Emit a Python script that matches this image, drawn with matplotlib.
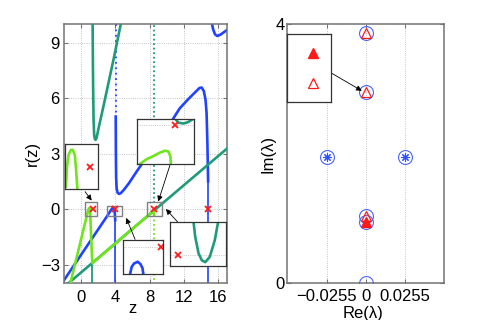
import matplotlib
matplotlib.use("Agg")
import matplotlib.pyplot as plt
from matplotlib.patches import Rectangle

plt.rcParams['font.family'] = ['Liberation Sans', 'DejaVu Sans']
plt.rcParams['font.size'] = 12

BLUE = '#2142ff'
LGREEN = '#70e41c'
TEAL = '#1f9b78'
RED = '#ff1a1a'
FRAME = '0.45'

# ---- left panel: branches of r(z)
blue_a_z = [-2.0, -1.0, 0.0, 1.0, 2.0, 3.0, 3.45, 3.63, 3.76, 3.86, 3.93, 3.97]
blue_a_r = [-3.85, -3.16, -2.47, -1.78, -1.09, -0.40, -0.08, 0.05, 0.06, 0.0, -0.25, -0.6]
blue_b_z = [4.03, 4.05, 4.08, 4.14, 4.25, 4.4, 4.6, 5.0, 5.56, 6.5, 7.5, 8.5, 9.5, 10.5,
            11.5, 12.5, 13.3, 13.8, 14.05, 14.3, 14.5, 14.62, 14.72, 14.8]
blue_b_r = [5.0, 3.0, 1.7, 1.1, 0.88, 0.82, 0.85, 1.05, 1.39, 2.05, 2.72, 3.38, 4.05, 4.72,
            5.45, 5.95, 6.32, 6.55, 6.57, 6.38, 5.9, 5.2, 3.5, 1.5]
blue_c_z = [15.25, 15.4, 15.6, 15.85, 16.2, 16.6, 17.0]
blue_c_r = [10.0, 9.7, 9.45, 9.36, 9.42, 9.55, 9.68]

teal_a_z = [-1.45, 17.0]
teal_a_r = [-4.0, 3.27]
teal_b_z = [1.34, 1.37, 1.40, 1.45, 1.52, 1.6, 1.68, 1.8, 2.0, 2.62, 3.2, 3.78, 4.2, 4.62]
teal_b_r = [10.0, 8.0, 6.5, 4.8, 4.0, 3.78, 3.74, 3.85, 4.3, 5.6, 6.85, 8.1, 9.05, 10.0]

green_z = [-1.25, -0.5, 0.2, 0.6, 0.8, 0.93, 1.02, 1.08, 1.15, 1.22, 1.3, 3.0, 5.0, 7.0, 8.45, 8.5]
green_r = [-4.0, -2.58, -1.24, -0.48, -0.1, 0.05, 0.0, -0.5, -1.3, -2.1, -2.93, -2.25, -1.46,
           -0.67, -0.1, -0.3]

# vertical pieces next to the poles: (z, r from, r to)
blue_poles = [(4.0, -0.6, -4.0), (14.83, 1.5, -4.0)]
blue_poles_dotted = [(4.02, 10.0, 5.0)]
teal_poles = [(1.3, -2.93, -4.0)]
teal_poles_dotted = [(8.53, 0.3, 10.0)]
green_poles_dotted = [(8.52, -0.3, -4.0)]

zeros_z = [1.35, 4.0, 8.53, 14.83]
zeros_r = [0.0, 0.0, 0.0, 0.0]

# insets (own unit coordinates)
ins_a_green_u = [0.02, 0.05, 0.1, 0.17, 0.23, 0.29, 0.33, 0.37]
ins_a_green_v = [0.06, 0.5, 0.76, 0.87, 0.87, 0.76, 0.43, 0.0]
ins_a_x = (0.75, 0.5)
ins_b_green_u = [0.0, 0.04, 0.16, 0.28, 0.4, 0.49, 0.55, 0.58, 0.59]
ins_b_green_v = [-0.05, 0.0, 0.11, 0.18, 0.26, 0.30, 0.28, 0.17, 0.0]
ins_b_teal_u = [0.67, 0.72, 0.81, 0.89, 0.98]
ins_b_teal_v = [1.0, 0.92, 0.9, 0.93, 1.0]
ins_b_x = (0.66, 0.87)
ins_c_blue_u = [0.17, 0.21, 0.27, 0.36, 0.43, 0.48, 0.5]
ins_c_blue_v = [0.0, 0.21, 0.31, 0.36, 0.29, 0.17, 0.0]
ins_c_x = (0.93, 0.8)
ins_d_teal_u = [0.42, 0.45, 0.51, 0.57, 0.63, 0.71, 0.8, 0.86]
ins_d_teal_v = [1.0, 0.66, 0.28, 0.12, 0.08, 0.2, 0.58, 1.0]
ins_d_x = (0.15, 0.24)

# ---- right panel: eigenvalues
circ_re = [0, 0, 0, 0, 0, -0.0255, 0.0255]
circ_im = [0.0, 0.94, 1.03, 2.95, 3.86, 1.95, 1.95]
star_re = [-0.0255, 0.0255]
star_im = [1.95, 1.95]
tri_open_re = [0, 0, 0]
tri_open_im = [1.03, 2.95, 3.86]
tri_fill_re = [0]
tri_fill_im = [0.95]


def style_axes(ax):
    for s in ax.spines.values():
        s.set_color(FRAME)
        s.set_linewidth(1.1)
    ax.tick_params(direction='in', length=3, color=FRAME, top=True, right=True,
                   labelsize=12)


def inset(rect):
    a = fig.add_axes(rect)
    a.set_xlim(0, 1)
    a.set_ylim(0, 1)
    a.set_xticks([])
    a.set_yticks([])
    for s in a.spines.values():
        s.set_color('0.2')
        s.set_linewidth(0.9)
    return a


fig = plt.figure(figsize=(4.91, 3.2), dpi=100)
ax = fig.add_axes([0.1303, 0.1156, 0.332, 0.809])
style_axes(ax)

lw = 1.9
ax.plot(blue_a_z, blue_a_r, color=BLUE, lw=lw, zorder=2)
ax.plot(blue_b_z, blue_b_r, color=BLUE, lw=lw, zorder=2)
ax.plot(blue_c_z, blue_c_r, color=BLUE, lw=lw, zorder=2)
for z, r0, r1 in blue_poles:
    ax.plot([z, z], [r0, r1], color=BLUE, lw=1.2, zorder=2)
for z, r0, r1 in blue_poles_dotted:
    ax.plot([z, z], [r0, r1], color=BLUE, lw=1.3, ls=(0, (1, 2)), zorder=2)

ax.plot(teal_a_z, teal_a_r, color=TEAL, lw=lw, zorder=3)
ax.plot(teal_b_z, teal_b_r, color=TEAL, lw=lw, zorder=3)
for z, r0, r1 in teal_poles:
    ax.plot([z, z], [r0, r1], color=TEAL, lw=1.3, zorder=3)
for z, r0, r1 in teal_poles_dotted:
    ax.plot([z, z], [r0, r1], color=TEAL, lw=1.3, ls=(0, (1, 1.5)), zorder=3)

ax.plot(green_z, green_r, color=LGREEN, lw=lw, zorder=4)
for z, r0, r1 in green_poles_dotted:
    ax.plot([z, z], [r0, r1], color=LGREEN, lw=1.3, ls=(0, (1, 1.5)), zorder=4)

ax.plot(zeros_z, zeros_r, 'x', color=RED, ms=5, mew=1.3, zorder=6)

for x0, y0, w, h in [(0.42, -0.4, 1.47, 0.77), (3.05, -0.4, 1.74, 0.59), (7.68, -0.4, 1.74, 0.77)]:
    ax.add_patch(Rectangle((x0, y0), w, h, fill=False, ec='0.5', lw=1.0, zorder=5))

arrow = dict(arrowstyle='-|>', color='k', lw=0.6, mutation_scale=8, shrinkA=0, shrinkB=0)
ax.annotate('', xy=(1.23, 0.46), xytext=(0.46, 0.94), arrowprops=arrow, zorder=7)
ax.annotate('', xy=(8.99, 0.41), xytext=(10.35, 2.37), arrowprops=arrow, zorder=7)
ax.annotate('', xy=(5.25, -0.48), xytext=(6.29, -1.64), arrowprops=arrow, zorder=7)
ax.annotate('', xy=(9.88, 0.0), xytext=(11.7, -0.93), arrowprops=arrow, zorder=7)

ax.set_xlim(-2, 17)
ax.set_ylim(-4, 10)
ax.set_xticks([0, 4, 8, 12, 16])
ax.set_yticks([-3, 0, 3, 6, 9])
ax.tick_params(axis='x', pad=5)
ax.tick_params(axis='y', pad=3)
ax.grid(True, ls=':', color='0.7', lw=0.6)
ax.set_axisbelow(True)
ax.set_ylabel('r(z)', labelpad=1)
ax.set_xlabel('z')
ax.xaxis.set_label_coords(0.42, -0.068)

# insets on the left panel
ia = inset([0.133, 0.4084, 0.0666, 0.1416])
ia.plot(ins_a_green_u, ins_a_green_v, color=LGREEN, lw=lw)
ia.plot(*ins_a_x, 'x', color=RED, ms=5, mew=1.3)

ib = inset([0.2796, 0.4866, 0.1161, 0.1416])
ib.axhline(ins_b_x[1], color='0.7', ls=':', lw=0.6)
ib.plot(ins_b_green_u, ins_b_green_v, color=LGREEN, lw=lw)
ib.plot(ins_b_teal_u, ins_b_teal_v, color=TEAL, lw=lw)
ib.plot(*ins_b_x, 'x', color=RED, ms=5, mew=1.3)

ic = inset([0.2511, 0.1438, 0.0815, 0.1063])
ic.axhline(ins_c_x[1], color='0.7', ls=':', lw=0.6)
ic.plot(ins_c_blue_u, ins_c_blue_v, color=BLUE, lw=lw)
ic.plot(*ins_c_x, 'x', color=RED, ms=5, mew=1.3)

idd = inset([0.3462, 0.1697, 0.1141, 0.1375])
idd.axhline(ins_d_x[1], color='0.7', ls=':', lw=0.6)
idd.plot(ins_d_teal_u, ins_d_teal_v, color=TEAL, lw=lw)
idd.plot(*ins_d_x, 'x', color=RED, ms=5, mew=1.3)

# ---- right panel
ax2 = fig.add_axes([0.5851, 0.1156, 0.3198, 0.809])
style_axes(ax2)
ax2.plot(circ_re, circ_im, 'o', mfc='none', mec='#4a64ff', ms=10, mew=0.8, zorder=3)
ax2.plot(star_re, star_im, ls='none', marker=(8, 2, 0), color='#3050ff', ms=6, mew=0.8, zorder=3)
ax2.plot(tri_open_re, tri_open_im, '^', mfc='none', mec=RED, ms=7, mew=0.9, zorder=4)
ax2.plot(tri_fill_re, tri_fill_im, '^', color=RED, ms=7, zorder=4)
ax2.annotate('', xy=(-0.0026, 2.97), xytext=(-0.0228, 3.25), arrowprops=arrow, zorder=7)
ax2.set_xlim(-0.051, 0.051)
ax2.set_ylim(0, 4)
ax2.set_xticks([-0.0255, 0, 0.0255])
ax2.set_xticklabels(['\u22120.0255', '0', '0.0255'])
ax2.set_yticks([0, 4])
ax2.tick_params(axis='x', pad=4)
ax2.tick_params(axis='y', pad=2)
ax2.grid(True, axis='x', ls=':', color='0.7', lw=0.6)
ax2.set_axisbelow(True)
ax2.set_ylabel('Im(\u03bb)', labelpad=0)
ax2.set_xlabel('Re(\u03bb)')
ax2.xaxis.set_label_coords(0.484, -0.09)

ir = inset([0.5851, 0.6803, 0.0884, 0.2134])
ir.plot([0.6], [0.72], '^', color=RED, ms=7)
ir.plot([0.6], [0.29], '^', mfc='none', mec=RED, ms=7, mew=0.9)

fig.savefig('out.png', dpi=100)
